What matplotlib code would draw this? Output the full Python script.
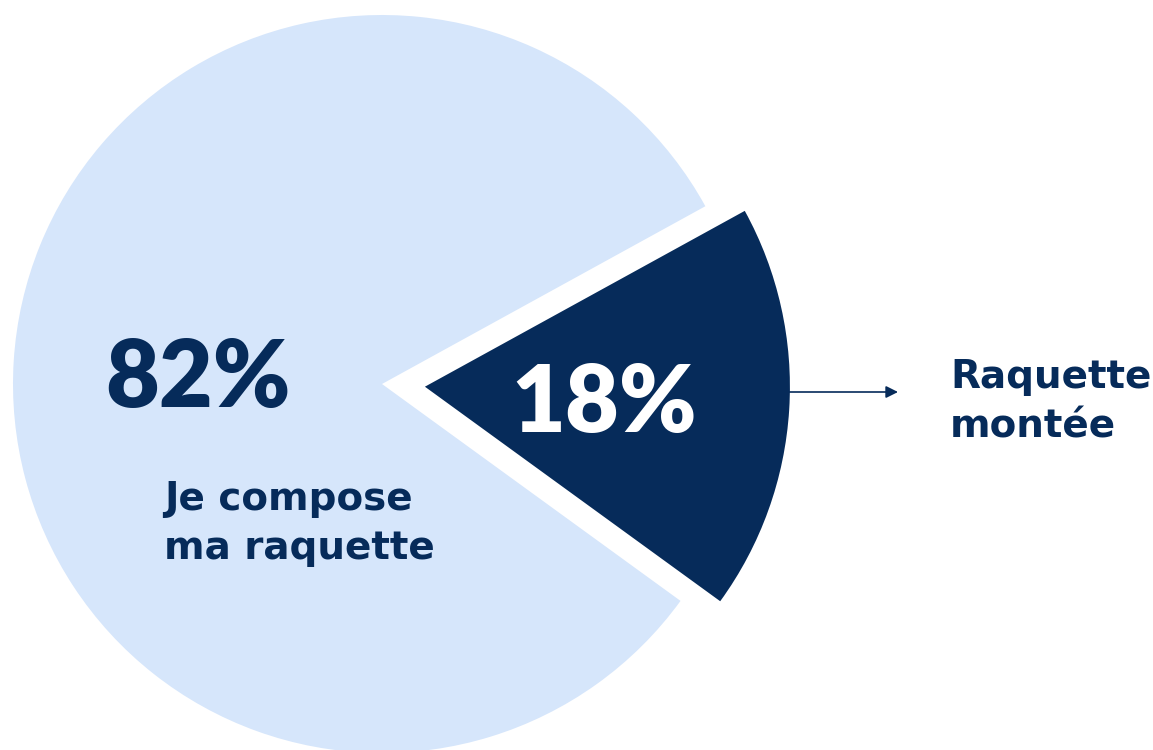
import matplotlib
matplotlib.use('Agg')
import matplotlib.pyplot as plt

# data
shares = [18, 82]
pct_labels = ['18%', '82%']
cat_labels = ['Raquette\nmontée', 'Je compose\nma raquette']

navy = '#062B5A'
light = '#D6E6FB'

plt.rcParams['font.family'] = ['Lato', 'DejaVu Sans']

fig = plt.figure(figsize=(11.53, 7.5), dpi=100)
ax = fig.add_axes([0, 0, 1, 1])

# pie drawn in pixel units, y up (explode is in the same units)
wedges, _ = ax.pie(shares, colors=[navy, light], startangle=-36,
                   counterclock=True, explode=[43, 0], radius=369,
                   center=(382, 366), wedgeprops=dict(linewidth=0))
wedges[0].set_radius(365)

ax.set_xlim(0, 1153)
ax.set_ylim(0, 750)
ax.set_aspect('equal')
ax.axis('off')

# big percentages
ax.text(105, 343, pct_labels[1], color=navy, fontsize=67, fontweight='heavy',
        ha='left', va='baseline')
ax.text(511, 318, pct_labels[0], color='white', fontsize=67, fontweight='heavy',
        ha='left', va='baseline')

# category labels
lab = dict(color=navy, fontsize=28, fontweight='bold', family='DejaVu Sans',
           ha='left', va='top', linespacing=1.38)
ax.text(164, 270, cat_labels[1], **lab)
ax.text(950, 392, cat_labels[0], **lab)

# arrow to the right label
ax.annotate('', xy=(898, 358), xytext=(789, 358),
            arrowprops=dict(arrowstyle='-|>', color=navy, lw=1.2,
                            mutation_scale=18, shrinkA=0, shrinkB=0))

fig.savefig('out.png', dpi=100)
